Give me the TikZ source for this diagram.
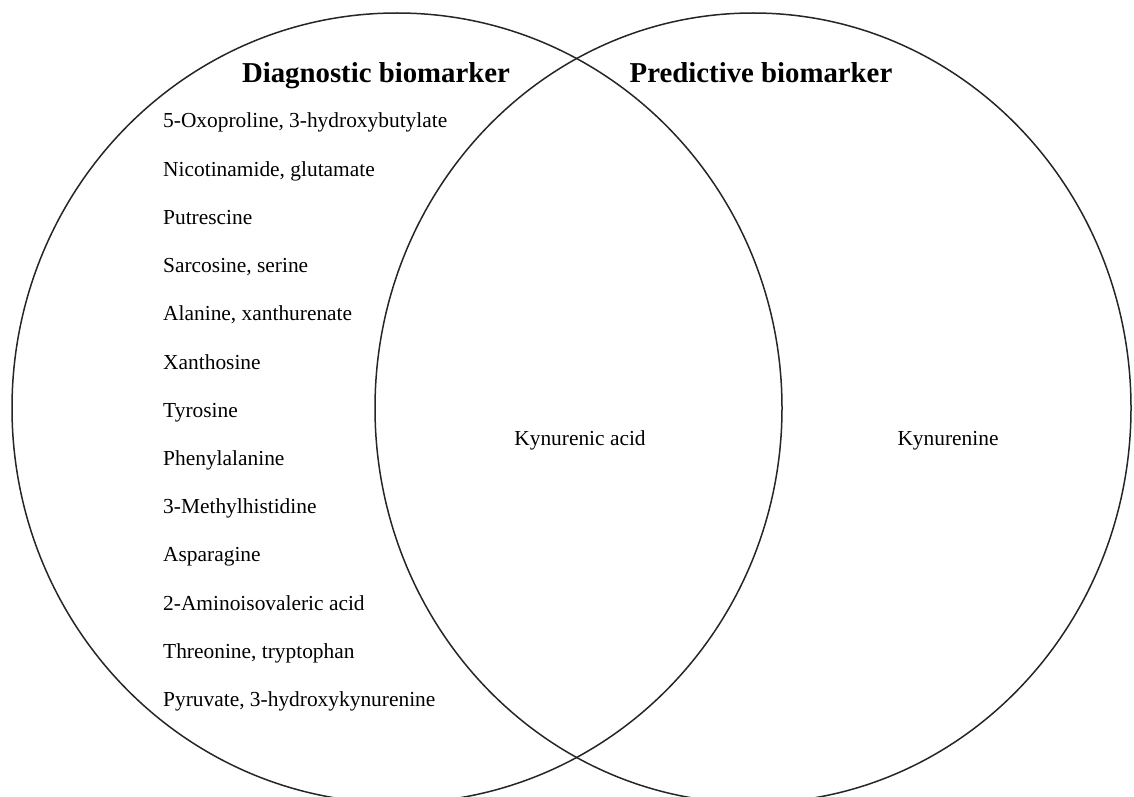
\documentclass[tikz,border=0pt]{standalone}
\usepackage{fontspec}
\setmainfont{Liberation Serif}
\begin{document}
\begin{tikzpicture}[x=1pt,y=-1pt,
  ring/.style={line width=1.5pt,draw=black!85},
  head/.style={anchor=base,inner sep=0pt,font=\fontsize{28.8}{30}\selectfont\bfseries},
  item/.style={anchor=base west,inner sep=0pt,font=\fontsize{21.4}{24}\selectfont},
  mid/.style={anchor=base,inner sep=0pt,font=\fontsize{21.4}{24}\selectfont}]
\useasboundingbox (0,0) rectangle (1134,797);
\begin{scope}
\clip (0,0) rectangle (1134,797);
\draw[ring] (397,408) ellipse [x radius=385, y radius=395];
\draw[ring] (753,408) ellipse [x radius=378, y radius=395];
\end{scope}
\node[head] (dh) at (376,83) {Diagnostic biomarker};
\node[head] (ph) at (761,83) {Predictive biomarker};
\foreach \t [count=\i from 0] in {{5-Oxoproline, 3-hydroxybutylate},{Nicotinamide, glutamate},Putrescine,{Sarcosine, serine},{Alanine, xanthurenate},Xanthosine,Tyrosine,Phenylalanine,3-Methylhistidine,Asparagine,2-Aminoisovaleric acid,{Threonine, tryptophan},{Pyruvate, 3-hydroxykynurenine}}
  \node[item] (d\i) at (163,{128+48.2*\i}) {\t};
\node[mid] (ka) at (580,445) {Kynurenic acid};
\node[mid] (ky) at (948,445) {Kynurenine};
\end{tikzpicture}
\end{document}
